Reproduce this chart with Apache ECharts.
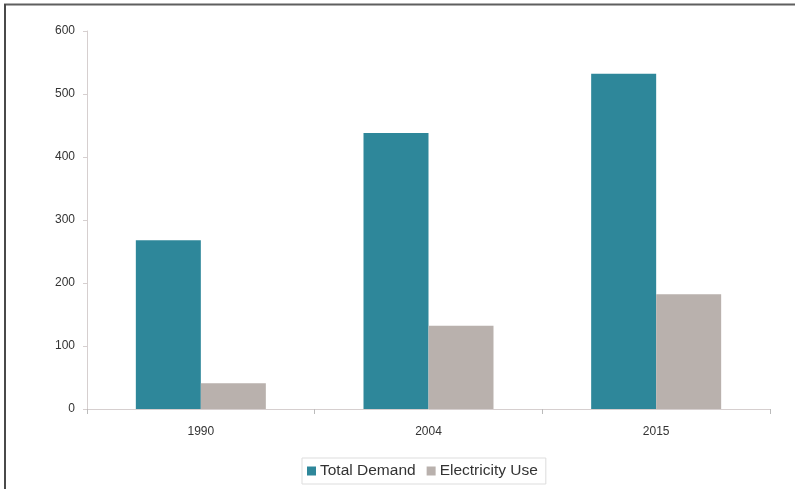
<!DOCTYPE html>
<html>
<head>
<meta charset="utf-8">
<script src="https://cdn.jsdelivr.net/npm/echarts@6/dist/echarts.min.js"></script>
<style>
  html, body { margin: 0; padding: 0; background: #ffffff; }
  #chart { width: 795px; height: 489px; }
</style>
</head>
<body>
<div id="chart"></div>
<script>
// Energy demand by year
const years = ['1990', '2004', '2015'];
const totalDemand = [268, 438, 532];
const electricityUse = [41, 132, 182];
const yTicks = [0, 100, 200, 300, 400, 500, 600];

const chart = echarts.init(document.getElementById('chart'), null, { renderer: 'canvas' });

const font = 'Liberation Sans, Arial, sans-serif';

chart.setOption({
  animation: false,
  backgroundColor: '#ffffff',
  grid: { left: 87, right: 25, top: 31, bottom: 80, containLabel: false },
  legend: {
    bottom: 5,
    left: 302,
    itemWidth: 9,
    itemHeight: 9,
    itemGap: 11,
    padding: [5, 8, 5, 5],
    borderColor: '#dddddd',
    borderWidth: 1,
    icon: 'rect',
    textStyle: { fontFamily: font, fontSize: 15.5, color: '#333333', padding: [0, 0, 0, -1] },
    data: ['Total Demand', 'Electricity Use']
  },
  xAxis: {
    type: 'category',
    data: years,
    axisLine: { lineStyle: { color: '#d6cfcf', width: 1 } },
    axisTick: { show: true, alignWithLabel: false, length: 5, lineStyle: { color: '#bbbbbb' } },
    axisLabel: { fontFamily: font, fontSize: 12, color: '#333333', margin: 17 }
  },
  yAxis: {
    type: 'value',
    min: yTicks[0],
    max: yTicks[yTicks.length - 1],
    interval: 100,
    splitLine: { show: false },
    axisLine: { show: true, lineStyle: { color: '#d6cfcf', width: 1 } },
    axisTick: { show: true, length: 4, lineStyle: { color: '#d6cfcf' } },
    axisLabel: { fontFamily: font, fontSize: 12, color: '#333333', margin: 12 }
  },
  series: [
    {
      name: 'Total Demand',
      type: 'bar',
      data: totalDemand,
      barWidth: 65,
      barGap: '0%',
      itemStyle: { color: '#2e879a' }
    },
    {
      name: 'Electricity Use',
      type: 'bar',
      data: electricityUse,
      barWidth: 65,
      barGap: '0%',
      itemStyle: { color: '#b9b1ad' }
    }
  ],
  graphic: [
    { type: 'line', shape: { x1: 4, y1: 4.5, x2: 795, y2: 4.5 }, style: { stroke: '#5f5f5f', lineWidth: 2 } },
    { type: 'line', shape: { x1: 5, y1: 4, x2: 5, y2: 489 }, style: { stroke: '#4a4a4a', lineWidth: 2 } }
  ]
});
</script>
</body>
</html>
